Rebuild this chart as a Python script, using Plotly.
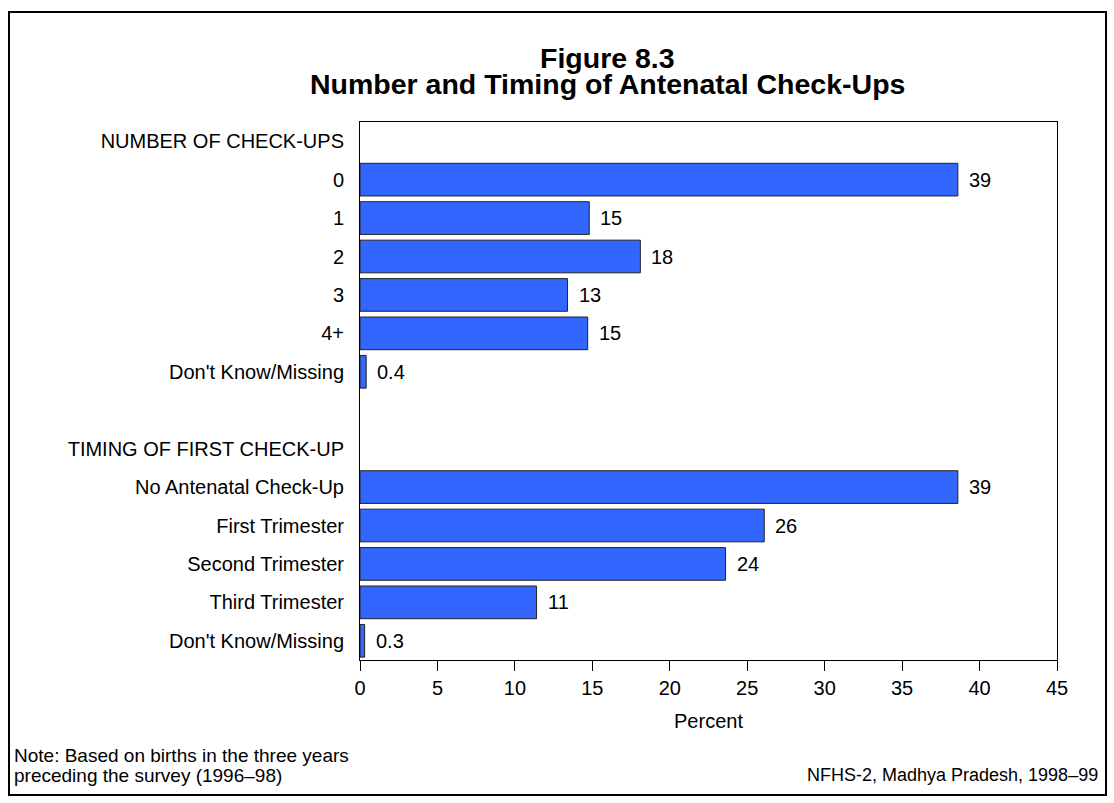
import plotly.graph_objects as go

# Survey results, percent of births
number_labels = ["0", "1", "2", "3", "4+", "Don't Know/Missing"]
number_values = [38.6, 14.8, 18.1, 13.4, 14.7, 0.4]

timing_labels = ["No Antenatal Check-Up", "First Trimester", "Second Trimester",
                 "Third Trimester", "Don't Know/Missing"]
timing_values = [38.6, 26.1, 23.6, 11.4, 0.3]

section_headers = ["NUMBER OF CHECK-UPS", "TIMING OF FIRST CHECK-UP"]
x_ticks = [0, 5, 10, 15, 20, 25, 30, 35, 40, 45]

FONT = "Liberation Sans, Arial, sans-serif"
BAR_COLOR = "#3366FF"
LABEL_SIZE = 20

W, H = 1114, 803
ML, MR, MT, MB = 360, 57, 122, 143
PW, PH = W - ML - MR, H - MT - MB


def px(x):
    return (x - ML) / PW


def py(y):
    return (H - MB - y) / PH


def fmt(v):
    if v < 1:
        return f"{v:.1f}"
    return str(int(v + 0.5))


# Row layout: header, items, blank spacer, header, items
rows = [section_headers[0]] + number_labels + [""] + [section_headers[1]] + timing_labels
row_idx = list(range(len(rows)))
num_pos = [1 + i for i in range(len(number_labels))]
tim_pos = [len(number_labels) + 3 + i for i in range(len(timing_labels))]

bar_y = num_pos + tim_pos
bar_x = number_values + timing_values

fig = go.Figure()
fig.add_trace(go.Bar(
    x=bar_x, y=bar_y, orientation="h", width=0.85,
    marker=dict(color=BAR_COLOR, line=dict(color="#222222", width=1)),
    hoverinfo="skip", showlegend=False,
))

annotations = []
for xv, yv in zip(bar_x, bar_y):
    annotations.append(dict(
        x=xv, y=yv, xref="x", yref="y", text=fmt(xv), showarrow=False,
        xanchor="left", yanchor="middle", xshift=9,
        font=dict(family=FONT, size=LABEL_SIZE, color="black"),
    ))

# Title lines
annotations.append(dict(x=px(607), y=py(58), xref="paper", yref="paper",
                        text="<b>Figure 8.3</b>", showarrow=False,
                        xanchor="center", yanchor="middle",
                        font=dict(family=FONT, size=28.5, color="black")))
annotations.append(dict(x=px(607), y=py(84), xref="paper", yref="paper",
                        text="<b>Number and Timing of Antenatal Check-Ups</b>", showarrow=False,
                        xanchor="center", yanchor="middle",
                        font=dict(family=FONT, size=28.5, color="black")))
# Footer notes
annotations.append(dict(x=px(12), y=py(755), xref="paper", yref="paper",
                        text="Note: Based on births in the three years", showarrow=False,
                        xanchor="left", yanchor="middle",
                        font=dict(family=FONT, size=19, color="black")))
annotations.append(dict(x=px(12), y=py(775), xref="paper", yref="paper",
                        text="preceding the survey (1996\u201398)", showarrow=False,
                        xanchor="left", yanchor="middle",
                        font=dict(family=FONT, size=19, color="black")))
annotations.append(dict(x=px(1100), y=py(775), xref="paper", yref="paper",
                        text="NFHS-2, Madhya Pradesh, 1998\u201399", showarrow=False,
                        xanchor="right", yanchor="middle",
                        font=dict(family=FONT, size=18, color="black")))

fig.update_layout(
    width=W, height=H,
    margin=dict(l=ML, r=MR, t=MT, b=MB),
    paper_bgcolor="white", plot_bgcolor="white",
    font=dict(family=FONT, size=LABEL_SIZE, color="black"),
    annotations=annotations,
    shapes=[dict(type="rect", xref="paper", yref="paper",
                 x0=px(9), x1=px(1106), y0=py(795), y1=py(12),
                 line=dict(color="black", width=2), fillcolor="rgba(0,0,0,0)")],
    xaxis=dict(
        range=[0, 45], tickvals=x_ticks, ticktext=[str(t) for t in x_ticks],
        ticks="outside", ticklen=10, tickcolor="black", tickwidth=1,
        showline=True, linecolor="black", linewidth=1, mirror=True,
        showgrid=False, zeroline=False,
        tickfont=dict(family=FONT, size=LABEL_SIZE, color="black"),
        title=dict(text="Percent", font=dict(family=FONT, size=LABEL_SIZE, color="black"), standoff=15),
    ),
    yaxis=dict(
        range=[len(rows) - 0.5, -0.5], tickvals=row_idx, ticktext=rows,
        ticks="", showline=True, linecolor="black", linewidth=1, mirror=True,
        showgrid=False, zeroline=False, ticklabelstandoff=11,
        tickfont=dict(family=FONT, size=LABEL_SIZE, color="black"),
    ),
)

fig.write_html("out.html")
